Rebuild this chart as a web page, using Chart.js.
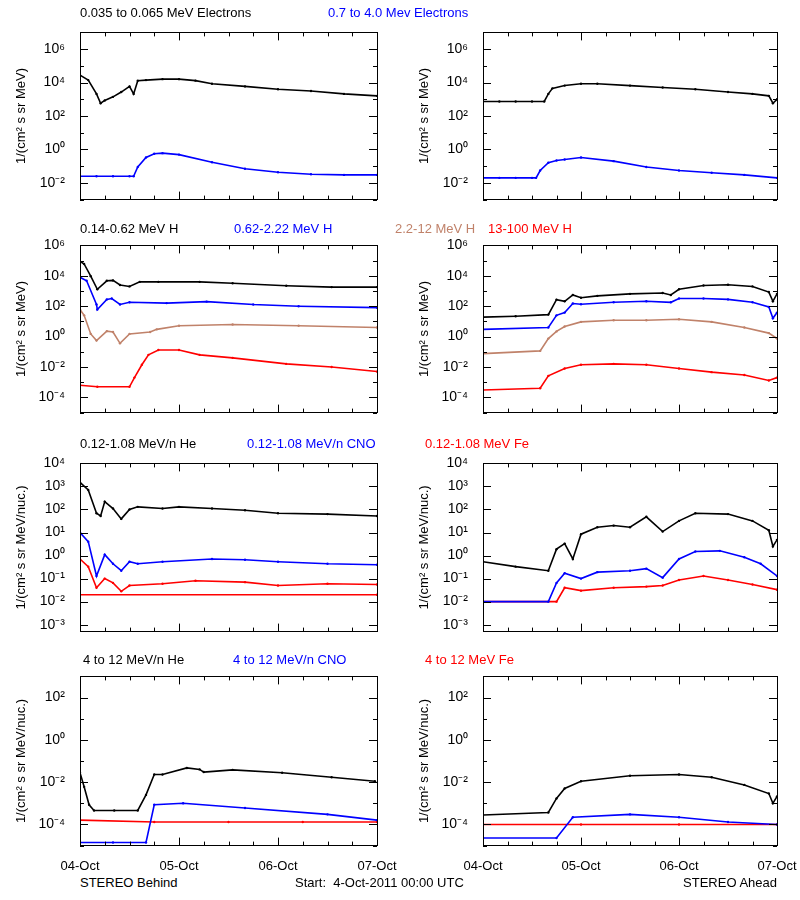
<!DOCTYPE html>
<html><head><meta charset="utf-8">
<script src="https://cdn.jsdelivr.net/npm/chart.js@4.4.0/dist/chart.umd.min.js"></script>
<style>
body{margin:0;background:#fff;width:800px;height:900px;position:relative;font-family:"Liberation Sans",Arial,sans-serif;font-size:12px;overflow:hidden}
.c{position:absolute}
.t{position:absolute;white-space:pre;font-size:13px;line-height:14px}
</style></head><body>
<script>
// ---- time ticks (hours since 04-Oct-2011 00:00 UTC)
const dayTicks=[0,24,48,72];
const dayLabels=["04-Oct","05-Oct","06-Oct","07-Oct"];
// ---- Row 1: electrons
const bElLoH=[0,2,4,5,6,8,10,12,13,14,16,20,24,28,32,40,48,56,64,72];
const bElLoV=[2.8e4,1.4e4,2.1e3,5.8e2,8.5e2,1.4e3,2.7e3,5.9e3,2.1e3,1.3e4,1.4e4,1.6e4,1.6e4,1.3e4,8.5e3,5.9e3,4e3,3.1e3,2.1e3,1.6e3];
const bElHiH=[0,4,8,12,13,14,16,18,20,24,32,40,48,56,64,72];
const bElHiV=[0.025,0.025,0.025,0.025,0.025,0.09,0.33,0.55,0.6,0.49,0.17,0.07,0.043,0.033,0.03,0.03];
const aElLoH=[0,4,8,12,15,16,17,20,24,28,36,44,52,60,66,70,71,72];
const aElLoV=[740,740,740,740,740,2100,4500,6600,8500,8500,6600,5100,4000,2700,2100,1600,580,1000];
const aElHiH=[0,4,8,12,13,14,16,18,20,24,32,40,48,56,64,72];
const aElHiV=[0.02,0.02,0.02,0.02,0.02,0.055,0.16,0.22,0.25,0.33,0.2,0.09,0.055,0.04,0.03,0.02];
// ---- Row 2: protons
const bH1H=[0,1,2.6,4.2,6.5,8,9.7,12,14.5,19,29,37,50,61,72];
const bH1V=[9e4,6e4,9.5e3,1.3e3,4.7e3,5e3,2.5e3,2e3,4e3,4e3,4e3,3.2e3,2.2e3,1.8e3,1.8e3];
const bH2H=[0,1.6,4,4.2,6.5,7.7,9.7,12,21,30.7,42,53,72];
const bH2V=[8e3,4.7e3,130,60,280,320,130,180,160,200,130,100,80];
const bH3H=[0,1,2.6,4,6.5,8,9.7,12,17,18.6,24,37,53,72];
const bH3V=[60,25,1.5,0.55,2.3,2,0.36,1.5,2,3,5.2,6.3,5.2,4];
const bH4H=[0,4.2,12,13.2,15,16.6,19,24,29,37,50,61,72];
const bH4V=[6.3e-4,5e-4,5e-4,2e-3,1.4e-2,6.3e-2,0.13,0.13,6.3e-2,4e-2,1.6e-2,1e-2,5e-3];
const aH1H=[0,8,16,18,20,22,24,28,36,44,46,48,54,60,66,70,71,72];
const aH1V=[19,22,28,270,210,550,360,480,650,740,550,1300,2300,2600,2000,850,210,650];
const aH2H=[0,16,18,20,22,24,32,40,46,48,54,60,66,70,71,72];
const aH2V=[3,4,25,38,150,135,180,210,180,320,320,280,180,90,16,38];
const aH3H=[0,14,16,18,20,24,32,40,48,56,64,70,72];
const aH3V=[0.076,0.115,0.74,2.2,4.6,9.3,12,12,14,9.3,4,1.7,0.74];
const aH4H=[0,14,16,20,24,32,40,48,56,64,70,72];
const aH4V=[3.1e-4,4e-4,2.6e-3,8e-3,1.4e-2,1.6e-2,1.4e-2,8e-3,4.6e-3,3e-3,1.3e-3,2e-3];
// ---- Row 3: 0.12-1.08 MeV/n heavy ions
const bL1H=[0,2,4,5,6,8,10,12,14,20,24,32,40,48,60,72];
const bL1V=[1500,700,69,52,220,110,39,100,130,110,130,110,93,69,63,52];
const bL2H=[0,2,4,6,8,10,12,14,20,32,40,48,60,72];
const bL2V=[10,4,0.13,1.1,0.44,0.22,0.54,0.44,0.54,0.71,0.66,0.54,0.44,0.4];
const bL3H=[0,2,4,6,8,10,12,20,28,40,48,60,72];
const bL3V=[0.71,0.33,0.04,0.1,0.065,0.028,0.05,0.06,0.08,0.07,0.05,0.06,0.055];
const bL4H=[0,72];
const bL4V=[0.02,0.02];
const aL1H=[0,8,16,18,20,22,24,28,32,36,40,44,48,52,60,66,70,71,72];
const aL1V=[0.54,0.33,0.22,1.9,3.3,0.71,8.5,17,20,17,48,11,32,69,63,32,12.6,2.5,4.8];
const aL2H=[0,16,18,20,24,28,36,40,44,48,52,58,64,68,72];
const aL2V=[0.01,0.01,0.065,0.17,0.1,0.19,0.22,0.27,0.11,0.71,1.5,1.6,0.85,0.44,0.13];
const aL3H=[0,18,20,24,32,40,44,48,54,60,66,72];
const aL3V=[0.01,0.01,0.04,0.03,0.04,0.045,0.05,0.087,0.13,0.087,0.055,0.033];
// ---- Row 4: 4-12 MeV/n heavy ions
const bM1H=[0,1,2.2,3.4,8.3,14,16,18,20,25.9,29,30,37,49,61,71.5];
const bM1V=[0.028,6e-3,8.5e-4,4.6e-4,4.6e-4,4.6e-4,2.5e-3,0.023,0.023,0.047,0.04,0.03,0.038,0.028,0.017,0.011];
const bM2H=[0,8,16,18,25,40,60,72];
const bM2V=[1.4e-5,1.4e-5,1.4e-5,8.5e-4,1e-3,6e-4,3e-4,1.6e-4];
const bM3H=[0,18,36,54,72];
const bM3V=[1.6e-4,1.3e-4,1.3e-4,1.3e-4,1.3e-4];
const aM1H=[0,16,18,20,24,36,48,56,64,70,71,72];
const aM1V=[2.8e-4,3.7e-4,1.7e-3,5e-3,0.011,0.02,0.023,0.017,7.4e-3,2.9e-3,1e-3,2.1e-3];
const aM2H=[0,18,22,36,48,60,72];
const aM2V=[2.3e-5,2.3e-5,2.2e-4,3e-4,2.2e-4,1.3e-4,1e-4];
const aM3H=[0,24,48,72];
const aM3V=[1e-4,1e-4,1e-4,1e-4];
// ---- y-axis tick values per row
const row1Ticks=[1e-2,1,1e2,1e4,1e6];
const row2Ticks=[1e-4,1e-2,1,1e2,1e4,1e6];
const row3Ticks=[1e-3,1e-2,1e-1,1,1e1,1e2,1e3,1e4];
const row4Ticks=[1e-4,1e-2,1,1e2];

const BLACK="#000000",BLUE="#0000ff",BROWN="#c0826a",RED="#ff0000";
const sup={"-":"⁻","0":"⁰","1":"¹","2":"²","3":"³","4":"⁴","5":"⁵","6":"⁶","7":"⁷","8":"⁸","9":"⁹"};
function fmt(v){const e=Math.round(Math.log10(v));return "10"+String(e).split("").map(c=>sup[c]).join("");}
function pts(h,v){return h.map((x,i)=>({x:x,y:v[i]}));}

const frame={id:"frame",afterDraw(ch){const a=ch.chartArea,c=ch.ctx;c.save();c.strokeStyle="#000";c.lineWidth=1;
 c.strokeRect(Math.round(a.left)+0.5,Math.round(a.top)+0.5,Math.round(a.right-a.left),Math.round(a.bottom-a.top));
 const xs=ch.scales.x,ys=ch.scales.y;c.beginPath();
 for(let h=0;h<=72;h+=6){const px=Math.round(xs.getPixelForValue(h))+0.5;const L=(h%24==0)?8:4;
  c.moveTo(px,a.bottom);c.lineTo(px,a.bottom-L);c.moveTo(px,a.top);c.lineTo(px,a.top+L);}
 const lo=Math.ceil(Math.log10(ys.min)),hi=Math.floor(Math.log10(ys.max));
 const major=ch.options.plugins.frame.ticks;
 for(let e=lo;e<=hi;e++){const py=Math.round(ys.getPixelForValue(Math.pow(10,e)))+0.5;
  const L=major.some(t=>Math.abs(Math.log10(t)-e)<1e-6)?8:4;
  c.moveTo(a.left,py);c.lineTo(a.left+L,py);c.moveTo(a.right,py);c.lineTo(a.right-L,py);}
 c.stroke();c.restore();}};

function panel(left,top,h,ymin,ymax,ticks,title,series){
 const cv=document.createElement("canvas");cv.className="c";
 const W=left<200?385:382;
 cv.style.left=left+"px";cv.style.top=(top-10)+"px";cv.style.width=W+"px";cv.style.height=(h+20)+"px";
 document.body.appendChild(cv);
 new Chart(cv,{type:"scatter",data:{datasets:series.map(s=>({data:pts(s[0],s[1]),borderColor:s[2],backgroundColor:s[2],showLine:true,borderWidth:1.6,pointRadius:1.2,pointBorderWidth:0}))},
  options:{responsive:false,animation:false,devicePixelRatio:1,layout:{padding:{top:10,bottom:10,right:8}},
   plugins:{legend:{display:false},tooltip:{enabled:false},frame:{ticks:ticks}},
   scales:{x:{type:"linear",min:0,max:72,display:false},
    y:{type:"logarithmic",min:ymin,max:ymax,grid:{display:false},border:{display:false},
     afterBuildTicks:sc=>{sc.ticks=ticks.map(v=>({value:v}));},
     afterFit:sc=>{sc.width=80;},
     ticks:{callback:v=>fmt(v),color:"#000",font:{family:"Liberation Sans",size:14},padding:7},
     title:{display:true,text:title,color:"#000",font:{family:"Liberation Sans",size:13},padding:{top:14,bottom:0}}}}},
  plugins:[frame]});
}
function txt(x,y,s,col,anchor){const d=document.createElement("div");d.className="t";d.textContent=s;d.style.color=col||"#000";
 d.style.top=(y-7)+"px";d.style.left=x+"px";if(anchor=="c")d.style.transform="translateX(-50%)";if(anchor=="r")d.style.transform="translateX(-100%)";document.body.appendChild(d);}

const t1="1/(cm² s sr MeV)",t2="1/(cm² s sr MeV/nuc.)";
panel(0,27,178,1e-3,1e7,row1Ticks,t1,[[bElLoH,bElLoV,BLACK],[bElHiH,bElHiV,BLUE]]);
panel(403,27,178,1e-3,1e7,row1Ticks,t1,[[aElLoH,aElLoV,BLACK],[aElHiH,aElHiV,BLUE]]);
panel(0,240,178,1e-5,1e6,row2Ticks,t1,[[bH1H,bH1V,BLACK],[bH2H,bH2V,BLUE],[bH3H,bH3V,BROWN],[bH4H,bH4V,RED]]);
panel(403,240,178,1e-5,1e6,row2Ticks,t1,[[aH1H,aH1V,BLACK],[aH2H,aH2V,BLUE],[aH3H,aH3V,BROWN],[aH4H,aH4V,RED]]);
panel(0,458,179,5e-4,1e4,row3Ticks,t2,[[bL1H,bL1V,BLACK],[bL2H,bL2V,BLUE],[bL3H,bL3V,RED],[bL4H,bL4V,RED]]);
panel(403,458,179,5e-4,1e4,row3Ticks,t2,[[aL1H,aL1V,BLACK],[aL2H,aL2V,BLUE],[aL3H,aL3V,RED]]);
panel(0,671,180,1e-5,1e3,row4Ticks,t2,[[bM1H,bM1V,BLACK],[bM2H,bM2V,BLUE],[bM3H,bM3V,RED]]);
panel(403,671,180,1e-5,1e3,row4Ticks,t2,[[aM1H,aM1V,BLACK],[aM2H,aM2V,BLUE],[aM3H,aM3V,RED]]);

txt(80,13,"0.035 to 0.065 MeV Electrons");txt(328,13,"0.7 to 4.0 Mev Electrons",BLUE);
txt(80,229,"0.14-0.62 MeV H");txt(234,229,"0.62-2.22 MeV H",BLUE);txt(395,229,"2.2-12 MeV H",BROWN);txt(488,229,"13-100 MeV H",RED);
txt(80,444,"0.12-1.08 MeV/n He");txt(247,444,"0.12-1.08 MeV/n CNO",BLUE);txt(425,444,"0.12-1.08 MeV Fe",RED);
txt(83,660,"4 to 12 MeV/n He");txt(233,660,"4 to 12 MeV/n CNO",BLUE);txt(425,660,"4 to 12 MeV Fe",RED);
dayLabels.forEach((l,i)=>{txt(80+dayTicks[i]*297/72,866,l,"#000","c");txt(483+dayTicks[i]*294/72,866,l,"#000","c");});
txt(80,883,"STEREO Behind");txt(295,883,"Start:  4-Oct-2011 00:00 UTC");txt(777,883,"STEREO Ahead","#000","r");
</script></body></html>
